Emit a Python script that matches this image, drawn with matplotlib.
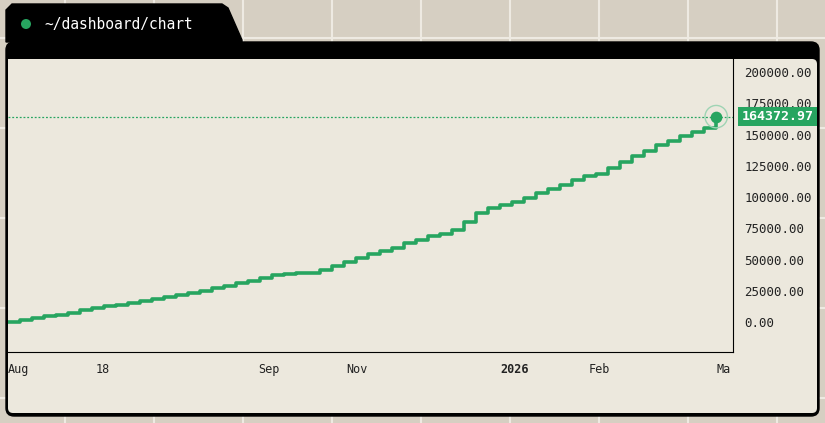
import matplotlib
matplotlib.use("Agg")
import matplotlib.pyplot as plt
from matplotlib.patches import FancyBboxPatch, Polygon, Rectangle, Circle

W, H = 825, 423

# ── data ─────────────────────────────────────────────
values = [0, 1500, 3000, 4500, 6000, 7500, 9500, 11000, 12500, 14000,
          15500, 17000, 18500, 20000, 21500, 23000, 25000, 27000, 29000, 31000,
          33000, 35500, 37500, 38500, 39000, 39500, 41500, 44500, 48000, 51500,
          54500, 57000, 59500, 63000, 66000, 68500, 70500, 74000, 80000, 87000,
          91000, 93500, 96000, 99000, 103000, 106500, 110000, 114000, 117000, 118500,
          123000, 128000, 133000, 137000, 142000, 145000, 148500, 152000, 155500, 164372.97]
tick_pos = [0, 7.9, 21.75, 29.1, 42.2, 49.3, 59.6]
tick_labels = ["Aug", "18", "Sep", "Nov", "2026", "Feb", "Ma"]
y_ticks = [0, 25000, 50000, 75000, 100000, 125000, 150000, 175000, 200000]

GREEN = "#27a560"
CREAM = "#ece8dd"
MONO = "DejaVu Sans Mono"

fig = plt.figure(figsize=(W / 100, H / 100), dpi=100)
fig.patch.set_facecolor("#d6cfc2")

# ── backdrop / window chrome (pixel coords) ───────────
bg = fig.add_axes([0, 0, 1, 1])
bg.set_xlim(0, W)
bg.set_ylim(H, 0)
bg.axis("off")
for x in range(65, W, 89):
    bg.plot([x, x], [0, H], color="#eeeae2", lw=1.5, zorder=0)
for y in [38, 128, 218, 308, 398]:
    bg.plot([0, W], [y, y], color="#eeeae2", lw=1.5, zorder=0)
bg.add_patch(FancyBboxPatch((6, 42), 813, 374, boxstyle="round,pad=0,rounding_size=8",
                            fc="black", ec="black", zorder=1))
bg.add_patch(Polygon([(6, 42), (6, 10), (12, 4), (222, 4), (228, 8), (242, 40), (242, 42)],
                     closed=True, fc="black", ec="black", zorder=1))
bg.add_patch(FancyBboxPatch((8, 59), 809, 354, boxstyle="round,pad=0,rounding_size=5",
                            fc=CREAM, ec="none", zorder=2))
bg.add_patch(Circle((26, 24), 5, fc=GREEN, ec="none", zorder=3))
bg.text(44, 24, "~/dashboard/chart", color="white", fontsize=10.5, family=MONO,
        va="center", ha="left", zorder=3)

# ── chart axes: plot area x 7..733, y 58..352 ─────────
x0, x1, yt, yb = 8, 733, 59, 352
ax = fig.add_axes([x0 / W, 1 - yb / H, (x1 - x0) / W, (yb - yt) / H])
ax.set_facecolor(CREAM)
n = len(values)
idx = list(range(n))
ax.set_xlim(0, 60.4)
ax.set_ylim(-24000, 210500)
ax.plot(idx, values, drawstyle="steps-post", color=GREEN, lw=2.6, zorder=3)
last = values[-1]
ax.axhline(last, color=GREEN, lw=0.9, ls=(0, (1.5, 1.5)), zorder=2)
ax.scatter([idx[-1]], [last], s=260, facecolor="none", edgecolor="#9fd4b4", lw=1, zorder=4)
ax.scatter([idx[-1]], [last], s=55, color=GREEN, zorder=5)

ax.yaxis.tick_right()
ax.set_yticks(y_ticks)
ax.set_yticklabels([f"{v:.2f}" for v in y_ticks], family=MONO, fontsize=9, color="#222")
ax.tick_params(axis="y", length=0, pad=8)
ax.set_xticks(tick_pos)
ax.set_xticklabels(tick_labels, family=MONO, fontsize=8.5, color="#222")
ax.tick_params(axis="x", length=0, pad=8)
for lab in ax.get_xticklabels():
    if lab.get_text() == "2026":
        lab.set_fontweight("bold")
    if lab.get_text() == "Aug":
        lab.set_ha("left")
for s in ["top", "left"]:
    ax.spines[s].set_visible(False)
ax.spines["right"].set_color("black")
ax.spines["bottom"].set_color("black")

# last-value badge
ax.text(1.012, (last + 24000) / 234500, f"{last:.2f}", transform=ax.transAxes,
        family=MONO, fontsize=9.5, fontweight="bold", color="white", va="center", ha="left",
        bbox=dict(boxstyle="square,pad=0.25", fc=GREEN, ec="none"), zorder=6)

fig.savefig("out.png", dpi=100, facecolor=fig.get_facecolor())
